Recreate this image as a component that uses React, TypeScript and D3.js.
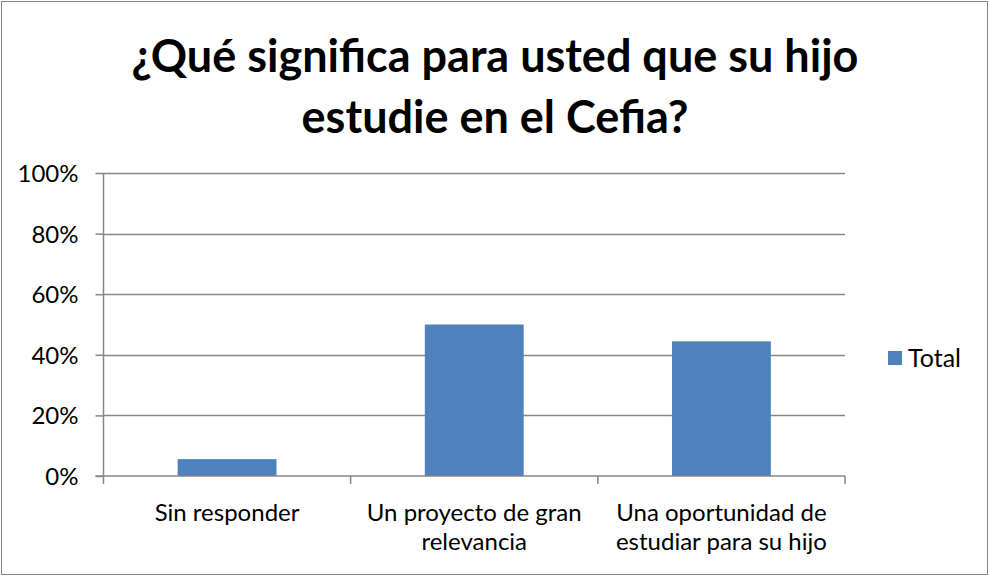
import React, { useEffect, useRef } from "react";
import * as d3 from "d3";

// Data
const categories = [
  ["Sin responder"],
  ["Un proyecto de gran", "relevancia"],
  ["Una oportunidad de", "estudiar para su hijo"],
];
const totals = [0.0556, 0.5, 0.4444];
const yTicks = [0, 0.2, 0.4, 0.6, 0.8, 1];
const titleLines = ["¿Qué significa para usted que su hijo", "estudie en el Cefia?"];
const seriesName = "Total";

const App = () => {
  const ref = useRef<SVGSVGElement>(null);

  useEffect(() => {
    const width = 990;
    const height = 576;
    const font = "Lato, 'Open Sans', sans-serif";

    const svg = d3.select(ref.current)
      .attr("width", width)
      .attr("height", height);

    svg.selectAll("*").remove();

    // Outer frame
    svg.append("rect")
      .attr("x", 1.5)
      .attr("y", 1.5)
      .attr("width", width - 4)
      .attr("height", height - 3)
      .attr("fill", "#fff")
      .attr("stroke", "#868686")
      .attr("stroke-width", 1);

    // Title
    svg.append("text")
      .attr("text-anchor", "middle")
      .attr("font-family", font)
      .attr("font-weight", "bold")
      .attr("font-size", 45)
      .attr("fill", "#000")
      .selectAll("tspan")
      .data(titleLines)
      .join("tspan")
      .attr("x", 495)
      .attr("y", (_, i) => 72 + i * 61)
      .text(d => d);

    const left = 103.5;
    const right = 845;
    const top = 173;
    const bottom = 476;

    const xScale = d3.scaleBand<number>()
      .domain(d3.range(categories.length))
      .range([left, right])
      .paddingInner(0.6)
      .paddingOuter(0.3);

    const yScale = d3.scaleLinear()
      .domain([0, 1])
      .range([bottom, top]);

    // Gridlines
    svg.append("g")
      .selectAll("line")
      .data(yTicks.slice(1))
      .join("line")
      .attr("x1", left)
      .attr("x2", right)
      .attr("y1", d => Math.round(yScale(d)) + 0.5)
      .attr("y2", d => Math.round(yScale(d)) + 0.5)
      .attr("stroke", "#868686")
      .attr("stroke-width", 1.5);

    // Bars
    svg.append("g")
      .selectAll("rect")
      .data(totals)
      .join("rect")
      .attr("x", (_, i) => xScale(i)!)
      .attr("y", d => yScale(d))
      .attr("width", xScale.bandwidth())
      .attr("height", d => bottom - yScale(d))
      .attr("fill", "#4f81bd");

    // Y axis
    const yAxis = svg.append("g")
      .attr("transform", `translate(${left},0)`)
      .call(d3.axisLeft(yScale).tickValues(yTicks).tickSize(8).tickFormat(d3.format(".0%")));
    yAxis.select(".domain").attr("stroke", "#868686").attr("stroke-width", 1.5).attr("d", `M0,${top}V${bottom}`);
    yAxis.selectAll(".tick line").attr("stroke", "#868686").attr("stroke-width", 1.5);
    yAxis.selectAll(".tick text")
      .attr("font-family", font)
      .attr("font-size", 24)
      .attr("fill", "#000")
      .attr("x", -25)
      .attr("dy", "0.35em");

    // X axis line and category separator ticks
    const step = (right - left) / categories.length;
    const xAxis = svg.append("g");
    xAxis.append("line")
      .attr("x1", left - 8)
      .attr("x2", right)
      .attr("y1", bottom)
      .attr("y2", bottom)
      .attr("stroke", "#868686")
      .attr("stroke-width", 1.5);
    xAxis.selectAll("line.sep")
      .data(d3.range(categories.length + 1))
      .join("line")
      .attr("class", "sep")
      .attr("x1", d => left + d * step)
      .attr("x2", d => left + d * step)
      .attr("y1", bottom)
      .attr("y2", bottom + 8)
      .attr("stroke", "#868686")
      .attr("stroke-width", 1.5);

    // Category labels
    xAxis.selectAll("text")
      .data(categories)
      .join("text")
      .attr("text-anchor", "middle")
      .attr("font-family", font)
      .attr("font-size", 24)
      .attr("fill", "#000")
      .each(function (lines, i) {
        d3.select(this)
          .selectAll("tspan")
          .data(lines)
          .join("tspan")
          .attr("x", xScale(i)! + xScale.bandwidth() / 2)
          .attr("y", (_, j) => 521 + j * 29)
          .text(d => d);
      });

    // Legend
    svg.append("rect")
      .attr("x", 888)
      .attr("y", 351)
      .attr("width", 14)
      .attr("height", 14)
      .attr("fill", "#4f81bd");
    svg.append("text")
      .attr("x", 908)
      .attr("y", 367)
      .attr("font-family", font)
      .attr("font-size", 25)
      .attr("fill", "#000")
      .text(seriesName);
  }, []);

  return (
    <div style={{ position: "absolute", left: 0, top: 0 }}>
      <svg ref={ref} style={{ display: "block" }}></svg>
    </div>
  );
};

export default App;
